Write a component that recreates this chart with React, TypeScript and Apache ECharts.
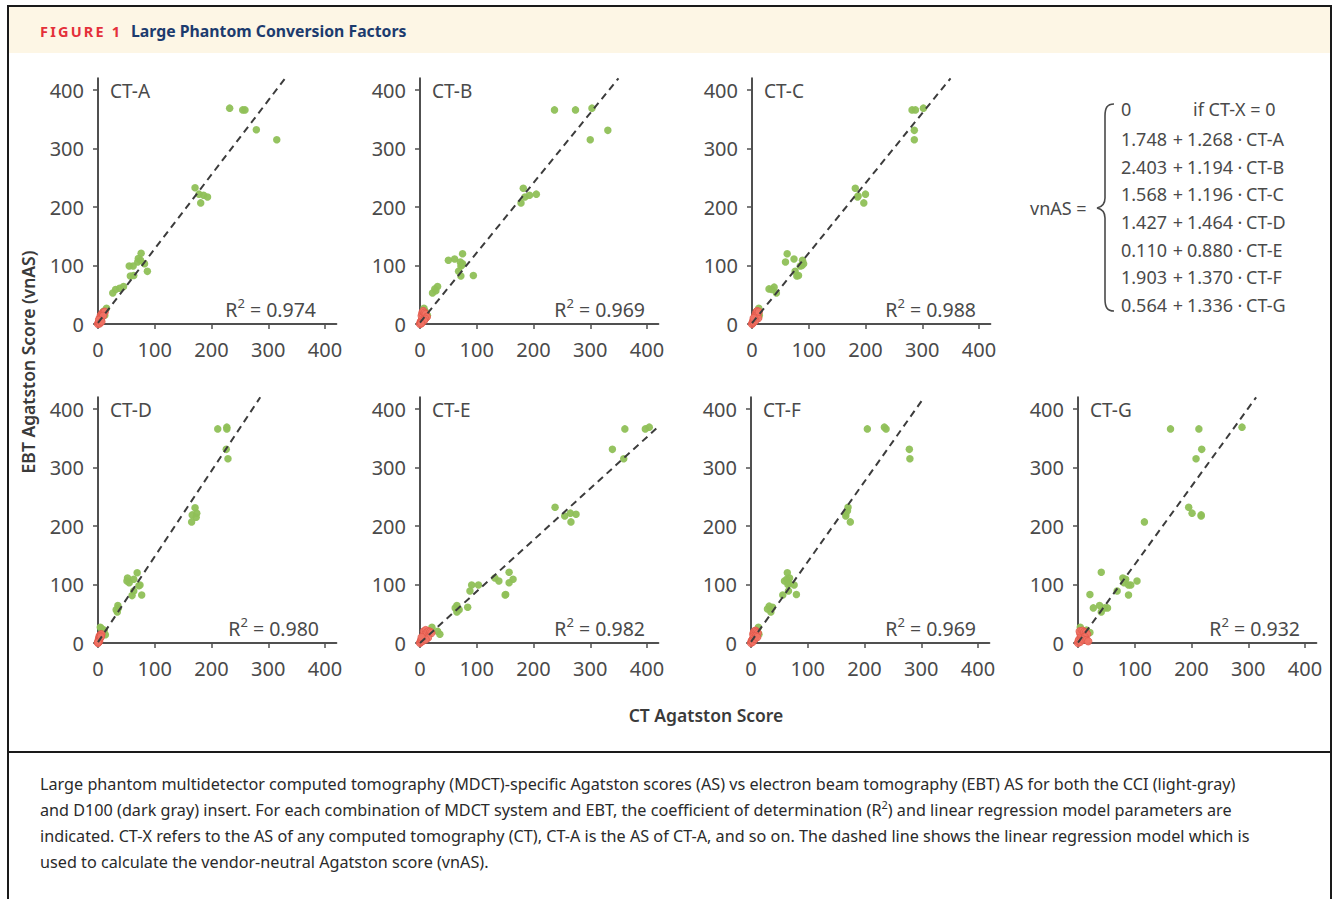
import React, { useEffect, useRef } from 'react';
import * as echarts from 'echarts';

// ---------- DATA ----------
const panelNames = ['CT-A', 'CT-B', 'CT-C', 'CT-D', 'CT-E', 'CT-F', 'CT-G'];
const intercepts = [1.748, 2.403, 1.568, 1.427, 0.110, 1.903, 0.564];
const slopes = [1.268, 1.194, 1.196, 1.464, 0.880, 1.370, 1.336];
const r2Values = ['0.974', '0.969', '0.988', '0.980', '0.982', '0.969', '0.932'];
const tickValues = [0, 100, 200, 300, 400];
const equationIntercepts = ['1.748', '2.403', '1.568', '1.427', '0.110', '1.903', '0.564'];
const equationSlopes = ['1.268', '1.194', '1.196', '1.464', '0.880', '1.370', '1.336'];

const greenA = [[232,369],[255,366],[259,366],[279,332],[315,315],[171,233],[178,222],[186,220],[193,217],[181,207],[76,121],[71,112],[75,109],[70,106],[82,103],[55,99],[62,99],[87,90],[57,82],[63,83],[45,64],[38,61],[31,59],[26,53],[15,27],[10,22],[8,18],[12,15]];
const redA = [[0,0],[1,2],[2,4],[3,1],[4,6],[5,8],[3,10],[6,12],[5,15],[7,17],[8,19],[10,20],[12,21],[9,14],[2,7],[6,4]];

const greenB = [[237,366],[274,366],[303,369],[331,331],[300,315],[182,232],[185,217],[193,220],[205,222],[178,207],[75,120],[50,109],[61,111],[71,106],[75,103],[74,101],[72,99],[68,90],[72,82],[94,83],[31,64],[26,60],[28,57],[22,53],[7,27],[9,22],[11,18],[13,15]];
const redB = [[0,0],[1,3],[2,5],[3,2],[4,8],[5,11],[3,14],[4,18],[5,21],[6,22],[8,19],[10,17],[12,12],[9,9],[7,6],[2,1]];

const greenC = [[282,366],[288,366],[302,369],[286,331],[286,315],[182,232],[186,217],[200,222],[197,207],[187,219],[62,120],[59,106],[74,111],[89,109],[91,103],[85,99],[88,100],[76,90],[79,82],[82,83],[30,60],[39,63],[35,59],[43,53],[12,27],[8,22],[10,18],[13,15]];
const redC = [[0,0],[1,2],[2,5],[3,3],[4,8],[5,12],[6,15],[7,18],[8,20],[9,22],[10,17],[11,10],[6,6],[3,10],[12,21]];

const greenD = [[211,366],[227,369],[227,366],[226,331],[229,315],[171,231],[166,219],[174,222],[173,215],[165,207],[69,120],[52,111],[63,109],[51,106],[55,103],[72,98],[74,99],[63,89],[60,81],[77,82],[35,64],[36,60],[32,57],[34,53],[4,27],[6,25],[11,22],[13,14]];
const redD = [[0,0],[1,2],[1,4],[2,6],[2,8],[3,10],[3,12],[4,13],[5,14],[6,15],[4,9],[2,3],[0,1],[5,11]];

const greenE = [[361,366],[397,366],[404,369],[339,331],[359,315],[238,232],[255,217],[265,222],[275,220],[266,207],[157,121],[132,111],[139,106],[164,109],[157,103],[91,99],[103,99],[88,89],[151,83],[150,82],[84,61],[65,64],[62,60],[69,57],[65,53],[21,27],[31,20],[35,15]];
const redE = [[0,0],[1,2],[2,5],[4,3],[5,8],[6,12],[8,16],[7,20],[10,22],[12,18],[15,20],[18,19],[20,17],[14,9],[10,6],[3,10]];

const greenF = [[205,366],[235,369],[238,366],[279,331],[280,315],[171,232],[167,221],[167,217],[175,207],[170,226],[64,120],[63,109],[68,111],[59,106],[67,102],[76,99],[65,100],[66,89],[56,82],[80,83],[32,63],[38,61],[29,58],[35,53],[13,27],[10,22],[12,18],[14,15]];
const redF = [[0,0],[1,3],[2,5],[3,2],[4,8],[5,11],[4,15],[5,18],[6,20],[8,21],[10,19],[12,17],[9,12],[7,7],[11,10]];

const greenG = [[163,366],[213,366],[289,369],[218,331],[208,315],[195,232],[201,222],[217,219],[217,217],[117,207],[41,121],[79,111],[84,109],[104,106],[81,103],[89,99],[93,99],[69,89],[89,82],[21,83],[27,60],[38,64],[41,53],[47,60],[52,60],[4,27],[21,18],[15,22]];
const redG = [[0,0],[1,3],[2,6],[4,2],[5,9],[6,12],[4,16],[3,20],[8,21],[11,19],[14,18],[16,15],[12,10],[9,6],[15,5],[18,3]];

const greenSets = [greenA, greenB, greenC, greenD, greenE, greenF, greenG];
const redSets = [redA, redB, redC, redD, redE, redF, redG];

const captionLines = [
  'Large phantom multidetector computed tomography (MDCT)-specific Agatston scores (AS) vs electron beam tomography (EBT) AS for both the CCI (light-gray)',
  'and D100 (dark gray) insert. For each combination of MDCT system and EBT, the coefficient of determination (R|2|) and linear regression model parameters are',
  'indicated. CT-X refers to the AS of any computed tomography (CT), CT-A is the AS of CT-A, and so on. The dashed line shows the linear regression model which is',
  'used to calculate the vendor-neutral Agatston score (vnAS).',
];

// ---------- LAYOUT / STYLE ----------
const FONT = '"Noto Sans", "Open Sans", sans-serif';
const AXIS_COLOR = '#505050';
const TEXT_COLOR = '#4a4a4a';
const GREEN = '#8fc057';
const RED = '#f07264';
const UX = 227 / 400;
const UY = 234 / 400;
const AX_MAX = 420;
const panelPos = [
  { left: 98, zeroY: 324, r2: 218 }, { left: 420, zeroY: 324, r2: 225 }, { left: 752, zeroY: 324, r2: 224 },
  { left: 98, zeroY: 643, r2: 221 }, { left: 420, zeroY: 643, r2: 225 }, { left: 751, zeroY: 643, r2: 225 }, { left: 1078, zeroY: 643, r2: 222 },
];

function measure(text: string, font: string): number {
  const c = document.createElement('canvas').getContext('2d');
  if (!c) return text.length * 8;
  c.font = font;
  return c.measureText(text).width;
}

function superRich(text: string, size: number, color: string) {
  const parts = text.split('|');
  let out = '';
  parts.forEach((p, i) => {
    if (p === '') return;
    out += i % 2 === 1 ? `{s|${p}}` : `{t|${p}}`;
  });
  return {
    text: out,
    rich: {
      t: { fontSize: size, fontFamily: FONT, fill: color, lineHeight: size + 6 },
      s: { fontSize: Math.round(size * 0.65), fontFamily: FONT, fill: color, lineHeight: Math.round(size * 0.65), verticalAlign: 'top' },
    },
  };
}

export default function App() {
  const ref = useRef<HTMLDivElement>(null);
  useEffect(() => {
    if (!ref.current) return;
    const brace = echarts.graphic.extendPath(
      'M17,0 C10,0 8,4 8,12 L8,94 C8,100 5,103 0,104 C5,105 8,108 8,114 L8,195 C8,203 10,207 17,207',
      {}
    );
    echarts.graphic.registerShape('brace', brace);

    const chart = echarts.init(ref.current, null, { renderer: 'svg' });

    const grids: any[] = [];
    const xAxes: any[] = [];
    const yAxes: any[] = [];
    const series: any[] = [];
    const graphics: any[] = [];

    panelPos.forEach((p, i) => {
      const w = AX_MAX * UX;
      const h = AX_MAX * UY;
      grids.push({ left: p.left, top: p.zeroY - h, width: w, height: h, containLabel: false });
      const axisCommon = {
        type: 'value', gridIndex: i, min: 0, max: AX_MAX,
        splitLine: { show: false },
        axisLine: { show: true, lineStyle: { color: AXIS_COLOR, width: 2 } },
        axisTick: { show: true, length: 5, lineStyle: { color: AXIS_COLOR, width: 1.5 }, customValues: tickValues },
      };
      xAxes.push({
        ...axisCommon,
        axisLabel: { customValues: tickValues, fontSize: 20, color: TEXT_COLOR, fontFamily: FONT, margin: 15 },
      });
      yAxes.push({
        ...axisCommon,
        axisLabel: { customValues: tickValues, fontSize: 20, color: TEXT_COLOR, fontFamily: FONT, margin: 14 },
      });
      series.push({
        type: 'scatter', xAxisIndex: i, yAxisIndex: i, data: greenSets[i], symbolSize: 7.5, clip: false,
        itemStyle: { color: GREEN, opacity: 0.95 }, z: 3,
      });
      series.push({
        type: 'scatter', xAxisIndex: i, yAxisIndex: i, data: redSets[i], symbolSize: 7.5, clip: false,
        itemStyle: { color: RED, borderColor: '#e0574a', borderWidth: 0.8, opacity: 0.9 }, z: 4,
      });
      const a = intercepts[i];
      const b = slopes[i];
      const xEnd = Math.min(AX_MAX, (AX_MAX - a) / b);
      series.push({
        type: 'line', xAxisIndex: i, yAxisIndex: i, data: [[0, a], [xEnd, a + b * xEnd]],
        symbol: 'none', silent: true, z: 5,
        lineStyle: { color: '#3c3c3c', width: 2, type: [7, 5] },
      });
      graphics.push({
        type: 'text', x: p.left + 12, y: p.zeroY - 400 * UY + 1,
        style: { text: panelNames[i], fontSize: 19, fontFamily: FONT, fill: TEXT_COLOR, align: 'left', verticalAlign: 'middle' },
      });
      graphics.push({
        type: 'text', x: p.left + p.r2, y: p.zeroY - 15,
        style: { ...superRich('R|2|' + ' = ' + r2Values[i], 19.5, TEXT_COLOR), align: 'right', verticalAlign: 'middle' },
      });
    });

    graphics.unshift(
      { type: 'rect', shape: { x: 9, y: 7, width: 1321, height: 46 }, style: { fill: '#fdf6e5' }, z: -1 },
      { type: 'rect', shape: { x: 8, y: 6, width: 1323, height: 905 }, style: { fill: 'none', stroke: '#1a1a1a', lineWidth: 2 }, z: 10 },
      { type: 'line', shape: { x1: 8, y1: 752, x2: 1331, y2: 752 }, style: { stroke: '#1a1a1a', lineWidth: 2 }, z: 10 },
    );

    const figFont = `bold 14.5px ${FONT}`;
    let fx = 40;
    'FIGURE 1'.split('').forEach((ch) => {
      graphics.push({
        type: 'text', x: fx, y: 31,
        style: { text: ch, font: figFont, fill: '#e4303a', align: 'left', verticalAlign: 'middle' },
      });
      fx += measure(ch, figFont) + 2.2;
    });
    graphics.push({
      type: 'text', x: 131, y: 31,
      style: { text: 'Large Phantom Conversion Factors', fontSize: 15.8, fontWeight: 'bold', fontFamily: FONT, fill: '#1c3b6e', align: 'left', verticalAlign: 'middle' },
    });

    graphics.push({
      type: 'text', x: 28, y: 362, rotation: Math.PI / 2,
      style: { text: 'EBT Agatston Score (vnAS)', fontSize: 17.5, fontWeight: 600, fontFamily: FONT, fill: '#3a3a3a', align: 'center', verticalAlign: 'middle' },
    });
    graphics.push({
      type: 'text', x: 706, y: 715,
      style: { text: 'CT Agatston Score', fontSize: 17.5, fontWeight: 600, fontFamily: FONT, fill: '#3a3a3a', align: 'center', verticalAlign: 'middle' },
    });

    const eqFont = { fontSize: 18, fontFamily: FONT, fill: TEXT_COLOR, verticalAlign: 'middle' };
    const rowY = [109, 139, 167, 194, 222, 250, 277, 305];
    graphics.push({ type: 'text', x: 1030, y: 208, style: { ...eqFont, text: 'vnAS =', align: 'left' } });
    graphics.push({ type: 'brace', x: 1097, y: 104, style: { stroke: TEXT_COLOR, fill: null, lineWidth: 1.6 } });
    graphics.push({ type: 'text', x: 1121, y: rowY[0], style: { ...eqFont, text: '0', align: 'left' } });
    graphics.push({ type: 'text', x: 1193, y: rowY[0], style: { ...eqFont, text: 'if CT-X = 0', align: 'left' } });
    panelNames.forEach((n, i) => {
      const y = rowY[i + 1];
      graphics.push({ type: 'text', x: 1121, y, style: { ...eqFont, text: equationIntercepts[i], align: 'left' } });
      graphics.push({ type: 'text', x: 1178, y, style: { ...eqFont, text: '+', align: 'center' } });
      graphics.push({ type: 'text', x: 1187, y, style: { ...eqFont, text: equationSlopes[i], align: 'left' } });
      graphics.push({ type: 'text', x: 1240, y, style: { ...eqFont, text: '·', align: 'center' } });
      graphics.push({ type: 'text', x: 1246, y, style: { ...eqFont, text: n, align: 'left' } });
    });

    captionLines.forEach((line, i) => {
      graphics.push({
        type: 'text', x: 40, y: 784 + i * 26,
        style: { ...superRich(line, 16.2, '#2a2a2a'), align: 'left', verticalAlign: 'middle' },
      });
    });

    chart.setOption({
      animation: false,
      backgroundColor: '#ffffff',
      grid: grids,
      xAxis: xAxes,
      yAxis: yAxes,
      series,
      graphic: { elements: graphics },
    });
    return () => chart.dispose();
  }, []);
  return <div ref={ref} style={{ position: 'fixed', left: 0, top: 0, width: 1336, height: 899 }} />;
}
